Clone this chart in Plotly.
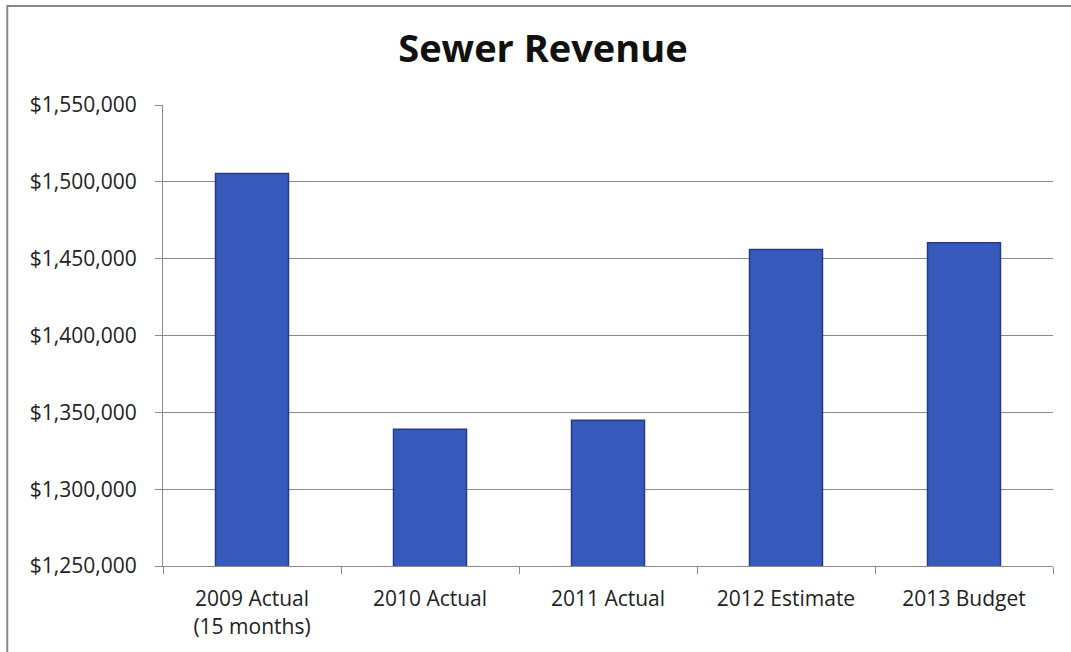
import plotly.graph_objects as go

# Sewer revenue by fiscal year
categories = ["2009 Actual<br>(15 months)", "2010 Actual", "2011 Actual", "2012 Estimate", "2013 Budget"]
revenue = [1505500, 1339000, 1344800, 1456000, 1460400]

y_ticks = [1250000, 1300000, 1350000, 1400000, 1450000, 1500000, 1550000]
y_tick_text = ["$1,250,000", "$1,300,000", "$1,350,000", "$1,400,000", "$1,450,000", "$1,500,000", "$1,550,000"]

FONT = "Open Sans"

fig = go.Figure(
    go.Bar(
        x=categories,
        y=revenue,
        marker=dict(color="#3859BC", line=dict(color="#243C88", width=1.5)),
        width=0.41,
    )
)

fig.update_layout(
    width=1071,
    height=652,
    paper_bgcolor="white",
    plot_bgcolor="white",
    margin=dict(l=163, r=18, t=105, b=84),
    showlegend=False,
    title=dict(
        text="<b>Sewer Revenue</b>",
        font=dict(family=FONT, size=38, color="#111111"),
        x=0.507,
        xref="container",
        xanchor="center",
        y=0.925,
        yref="container",
        yanchor="middle",
    ),
    font=dict(family=FONT, color="#222222"),
)

fig.update_yaxes(
    range=[1250000, 1550000],
    tickvals=y_ticks,
    ticktext=y_tick_text,
    tickfont=dict(family=FONT, size=21, color="#222222"),
    showgrid=True,
    gridcolor="#8a8a8a",
    gridwidth=1,
    showline=True,
    linecolor="#8a8a8a",
    linewidth=1,
    ticks="outside",
    ticklen=7,
    tickcolor="#8a8a8a",
    ticklabelstandoff=14,
    zeroline=False,
)

fig.update_xaxes(
    tickfont=dict(family=FONT, size=21, color="#222222"),
    showline=True,
    linecolor="#8a8a8a",
    linewidth=1,
    ticks="outside",
    tickson="boundaries",
    ticklen=7,
    tickcolor="#8a8a8a",
    ticklabelstandoff=14,
    showgrid=False,
)

# outer chart-area frame (left and top edges visible)
fig.add_shape(
    type="rect",
    xref="paper", yref="paper",
    x0=-0.175, x1=1.1, y0=-0.3, y1=1.215,
    line=dict(color="#888888", width=2),
    fillcolor="rgba(0,0,0,0)",
    layer="below",
)

fig.write_html("out.html")
